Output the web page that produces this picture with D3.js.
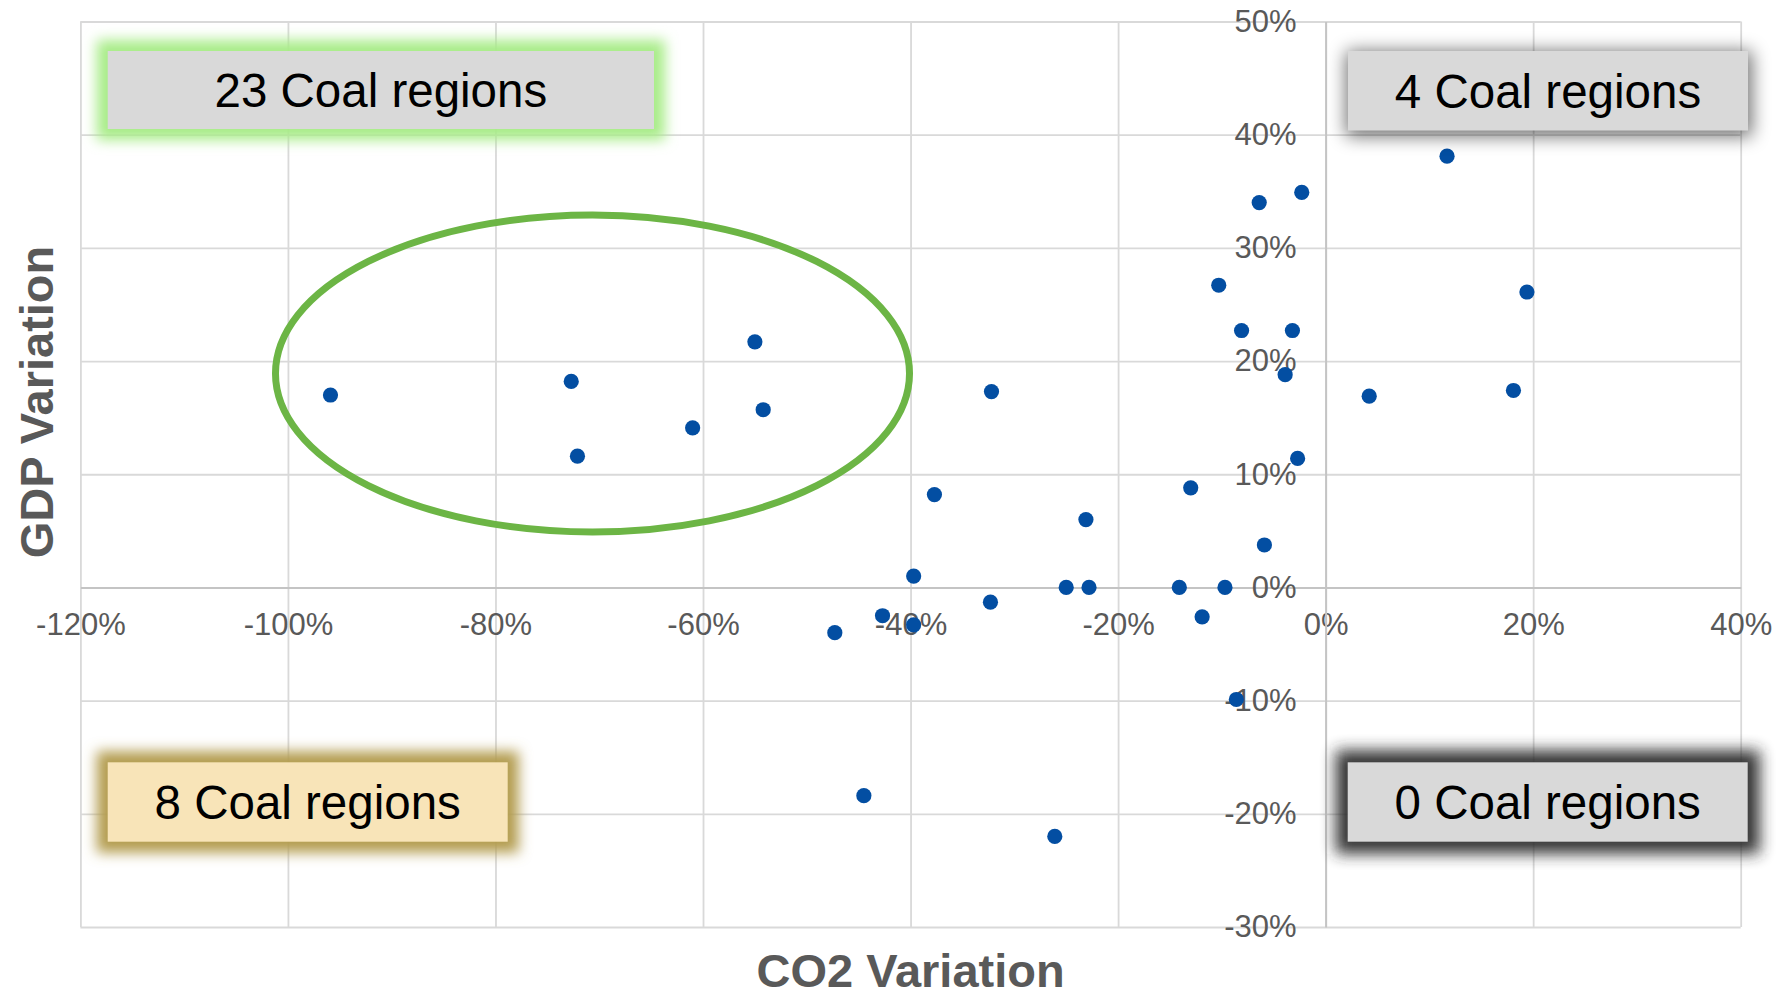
<!DOCTYPE html>
<html>
<head>
<meta charset="utf-8">
<script src="https://cdn.jsdelivr.net/npm/d3@7"></script>
<style>
  html, body { margin: 0; padding: 0; background: #ffffff; }
  svg { display: block; font-family: "Liberation Sans", Arial, sans-serif; }
</style>
</head>
<body>
<svg id="chart" width="1781" height="999"></svg>
<script>
// ---- Data (fractions: CO2 variation, GDP variation) ----
const co2Variation = [
  -0.959, -0.727, -0.721, -0.610, -0.550, -0.542, -0.322, -0.377, -0.231, -0.397,
  -0.473, -0.427, -0.397, -0.323, -0.250, -0.228, -0.141, -0.097, -0.119, -0.086,
  -0.445, -0.261, -0.130, -0.059, -0.027, -0.039, -0.081, -0.032, -0.103, -0.064,
  -0.023, 0.117, 0.194, 0.042, 0.181
];
const gdpVariation = [
  0.170, 0.182, 0.116, 0.141, 0.217, 0.157, 0.173, 0.082, 0.060, 0.010,
  -0.040, -0.025, -0.033, -0.013, 0.000, 0.000, 0.000, 0.000, -0.026, -0.099,
  -0.184, -0.220, 0.088, 0.0375, 0.114, 0.188, 0.227, 0.227, 0.267, 0.340,
  0.349, 0.381, 0.261, 0.169, 0.174
];
const xTicks = [-1.2, -1.0, -0.8, -0.6, -0.4, -0.2, 0, 0.2, 0.4];
const yTicks = [-0.3, -0.2, -0.1, 0, 0.1, 0.2, 0.3, 0.4, 0.5];
const xTitle = "CO2 Variation";
const yTitle = "GDP Variation";
const boxLabels = ["23 Coal regions", "4 Coal regions", "8 Coal regions", "0 Coal regions"];
// highlight ellipse in data units: center x, center y, radius x, radius y
const ellipseCx = -0.7065, ellipseCy = 0.189, ellipseRx = 0.3055, ellipseRy = 0.140;

// ---- Layout ----
const svg = d3.select("#chart");
const L = 80.4, R = 1740.7, T = 21.5, B = 927;
const x = d3.scaleLinear().domain([-1.2, 0.4]).range([L, R]);
const y = d3.scaleLinear().domain([-0.3, 0.5]).range([B, T]);
const locale = d3.formatLocale({ decimal: ".", thousands: ",", grouping: [3], currency: ["", ""], minus: "-", percent: "%" });
const pct = locale.format(".0%");

const defs = svg.append("defs");
function blurFilter(id, sd) {
  defs.append("filter").attr("id", id)
    .attr("x", "-30%").attr("y", "-80%").attr("width", "160%").attr("height", "260%")
    .append("feGaussianBlur").attr("stdDeviation", sd);
}
blurFilter("glowGreen", 6.5);
blurFilter("glowTan", 6.5);
blurFilter("glowDark", 7.5);
blurFilter("shadowSoft", 9);

// ---- Gridlines ----
const grid = svg.append("g");
grid.append("g").attr("transform", `translate(0,${B})`)
  .call(d3.axisBottom(x).tickValues(xTicks).tickSize(-(B - T)).tickFormat(""))
  .call(g => g.select(".domain").remove())
  .call(g => g.selectAll("line").attr("stroke", "#d9d9d9").attr("stroke-width", 1.8));
grid.append("g").attr("transform", `translate(${L},0)`)
  .call(d3.axisLeft(y).tickValues(yTicks).tickSize(-(R - L)).tickFormat(""))
  .call(g => g.select(".domain").remove())
  .call(g => g.selectAll("line").attr("stroke", "#d9d9d9").attr("stroke-width", 1.8));

// ---- Axes crossing at zero ----
const xAxis = svg.append("g").attr("transform", `translate(0,${y(0)})`)
  .call(d3.axisBottom(x).tickValues(xTicks).tickSize(0).tickSizeOuter(0).tickPadding(26).tickFormat(pct));
xAxis.select(".domain").attr("stroke", "#c4c4c4").attr("stroke-width", 2);
xAxis.selectAll("text").attr("fill", "#595959").style("font-size", "31px")
  .style("font-family", "'Liberation Sans', Arial, sans-serif");

const yAxis = svg.append("g").attr("transform", `translate(${x(0)},0)`)
  .call(d3.axisLeft(y).tickValues(yTicks).tickSize(0).tickSizeOuter(0).tickPadding(29).tickFormat(pct));
yAxis.select(".domain").attr("stroke", "#c4c4c4").attr("stroke-width", 2);
yAxis.selectAll("text").attr("fill", "#595959").style("font-size", "31px")
  .style("font-family", "'Liberation Sans', Arial, sans-serif");

// ---- Axis titles ----
svg.append("text").attr("x", (L + R) / 2).attr("y", 987)
  .attr("text-anchor", "middle").attr("fill", "#595959")
  .style("font-size", "47px").style("font-weight", "bold").text(xTitle);
svg.append("text").attr("transform", "translate(53,402) rotate(-90)")
  .attr("text-anchor", "middle").attr("fill", "#595959")
  .style("font-size", "47px").style("font-weight", "bold").text(yTitle);

// ---- Points ----
const points = co2Variation.map((v, i) => ({ cx: v, gy: gdpVariation[i] }));
svg.append("g").selectAll("circle").data(points).join("circle")
  .attr("cx", d => x(d.cx)).attr("cy", d => y(d.gy)).attr("r", 7.6)
  .attr("fill", "#034ea2");

// ---- Highlight ellipse ----
svg.append("ellipse")
  .attr("cx", x(ellipseCx)).attr("cy", y(ellipseCy))
  .attr("rx", x(ellipseCx + ellipseRx) - x(ellipseCx))
  .attr("ry", y(ellipseCy - ellipseRy) - y(ellipseCy))
  .attr("fill", "none").attr("stroke", "#6cb545").attr("stroke-width", 7);

// ---- Annotation boxes ----
const boxes = [
  { x0: 107.7, y0: 51, w: 546.3, h: 78, fill: "#d9d9d9", glow: "#a8ec88", grow: 11, filter: "glowGreen", dx: 0, dy: 0, op: 1 },
  { x0: 1348, y0: 51, w: 400, h: 79.5, fill: "#d9d9d9", glow: "#000000", grow: 3, filter: "shadowSoft", dx: 1, dy: 3, op: 0.55 },
  { x0: 107.7, y0: 762.3, w: 400, h: 79.4, fill: "#f8e4b8", glow: "#b39c50", grow: 11, filter: "glowTan", dx: 0, dy: 0, op: 1 },
  { x0: 1347.7, y0: 762.3, w: 400, h: 79.4, fill: "#d9d9d9", glow: "#2a2a2a", grow: 12, filter: "glowDark", dx: 0, dy: 0, op: 0.95 }
];
const bg = svg.append("g").selectAll("g").data(boxes).join("g");
bg.append("rect")
  .attr("x", d => d.x0 - d.grow + d.dx).attr("y", d => d.y0 - d.grow + d.dy)
  .attr("width", d => d.w + 2 * d.grow).attr("height", d => d.h + 2 * d.grow)
  .attr("fill", d => d.glow).attr("opacity", d => d.op)
  .attr("filter", d => `url(#${d.filter})`);
bg.append("rect")
  .attr("x", d => d.x0).attr("y", d => d.y0)
  .attr("width", d => d.w).attr("height", d => d.h)
  .attr("fill", d => d.fill);
bg.append("text")
  .attr("x", d => d.x0 + d.w / 2).attr("y", d => d.y0 + d.h / 2 + 17)
  .attr("text-anchor", "middle").attr("fill", "#000000")
  .style("font-size", "47.5px")
  .text((d, i) => boxLabels[i]);
</script>
</body>
</html>
